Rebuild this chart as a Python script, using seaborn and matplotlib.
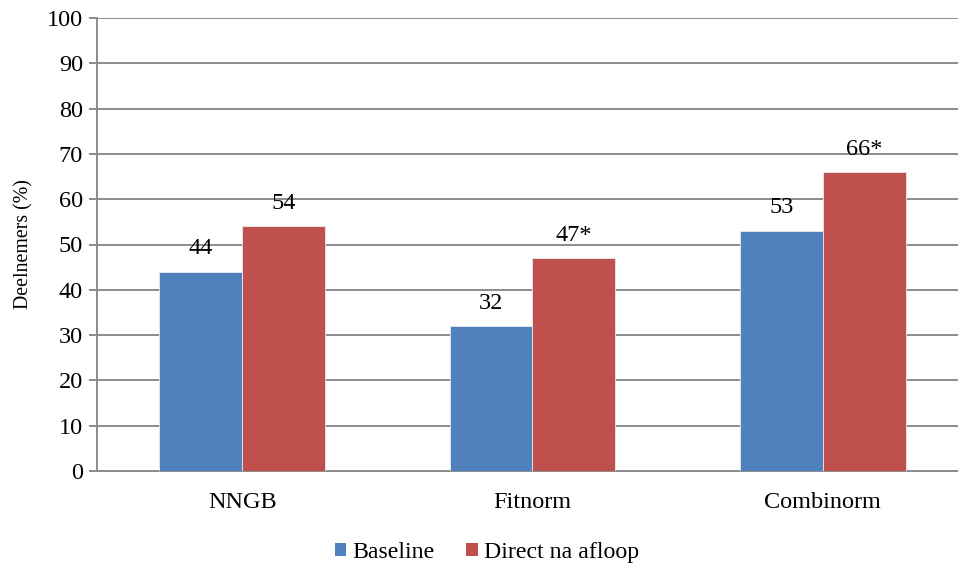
import matplotlib
matplotlib.use("Agg")
import matplotlib.pyplot as plt
import seaborn as sns
import pandas as pd
from matplotlib.patches import Patch

categories = ["NNGB", "Fitnorm", "Combinorm"]
series_names = ["Baseline", "Direct na afloop"]
baseline = [44, 32, 53]
direct = [54, 47, 66]
baseline_labels = ["44", "32", "53"]
direct_labels = ["54", "47*", "66*"]
colors = ["#4F81BD", "#C0504D"]

df = pd.DataFrame({
    "categorie": categories * 2,
    "meting": [series_names[0]] * 3 + [series_names[1]] * 3,
    "waarde": baseline + direct,
})

sns.set_theme(style="white")
plt.rcParams["font.family"] = ["Liberation Serif", "DejaVu Serif"]
plt.rcParams["text.color"] = "black"
plt.rcParams["axes.labelcolor"] = "black"
plt.rcParams["xtick.color"] = "black"
plt.rcParams["ytick.color"] = "black"

FS = 17.5

fig = plt.figure(figsize=(9.58, 5.63), dpi=100)
ax = fig.add_axes([97 / 958, 92 / 563, 871 / 958, 453 / 563])

sns.barplot(data=df, x="categorie", y="waarde", hue="meting",
            palette=colors, saturation=1, width=0.57, ax=ax, legend=False,
            edgecolor="#e4eaf2", linewidth=0.6, zorder=3)

ax.set_ylim(0, 100)
ax.set_xlim(-0.5, 2.5)
ax.set_yticks(range(0, 101, 10))
ax.yaxis.grid(True, color="#8c8c8c", linewidth=1.4, zorder=0)
ax.set_axisbelow(True)

for side in ["top", "right"]:
    ax.spines[side].set_visible(False)
for side in ["left", "bottom"]:
    ax.spines[side].set_color("#8c8c8c")
    ax.spines[side].set_linewidth(1.4)

ax.set_xticks([0, 1, 2])
ax.set_xticklabels(categories, fontsize=FS)
ax.tick_params(axis="x", length=0, pad=15)
ax.set_xticks([-0.5, 0.5, 1.5, 2.5], minor=True)
ax.tick_params(axis="x", which="minor", length=6, width=1.4, color="#8c8c8c", direction="out")
ax.tick_params(axis="y", labelsize=FS, length=6, width=1.4, color="#8c8c8c",
               labelcolor="black", direction="out", left=True, pad=4)

ax.set_xlabel("")
ax.set_ylabel("Deelnemers (%)", fontsize=14.3, labelpad=10)

# value labels above the bars
for container, labels in zip(ax.containers, [baseline_labels, direct_labels]):
    ax.bar_label(container, labels=labels, padding=9, fontsize=FS, color="black")

handles = [Patch(facecolor=c, edgecolor="none") for c in colors]
fig.legend(handles, series_names, loc="lower center", bbox_to_anchor=(0.508, -0.038),
           ncol=2, frameon=False, fontsize=17.2, handlelength=0.5, handleheight=0.5,
           handletextpad=0.25, columnspacing=1.3)

fig.savefig("out.png", dpi=100)
